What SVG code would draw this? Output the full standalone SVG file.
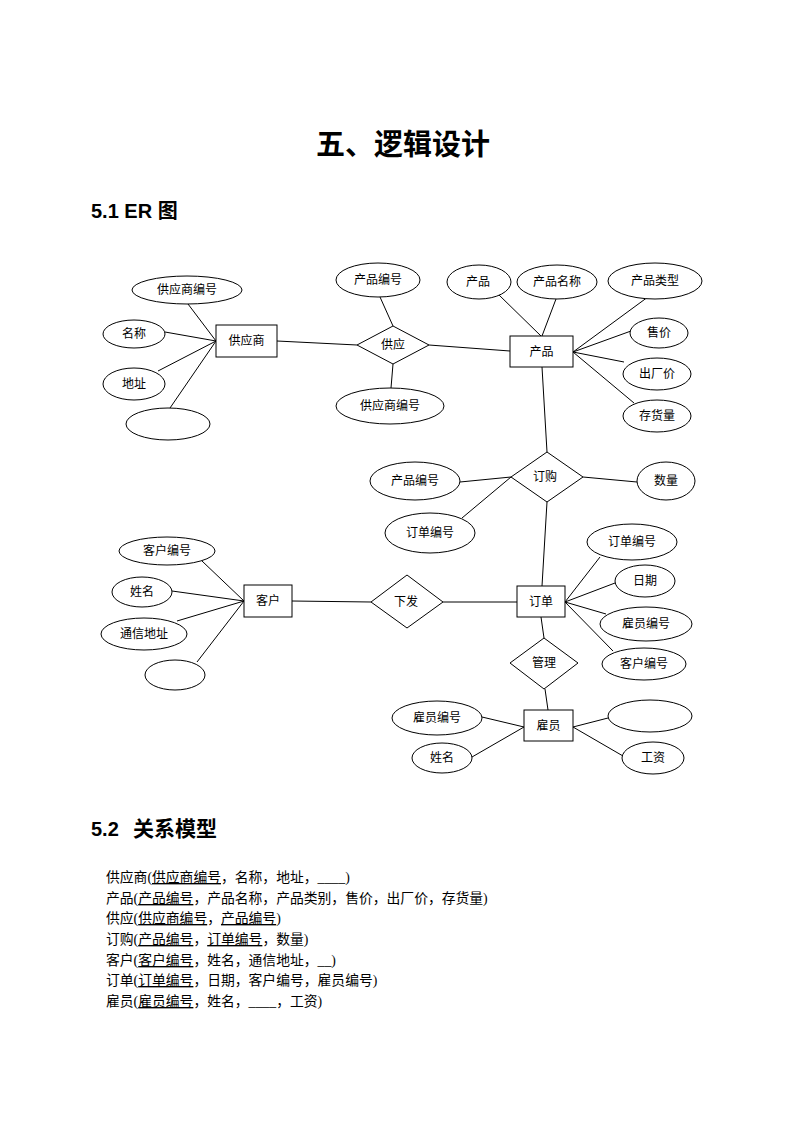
<svg xmlns="http://www.w3.org/2000/svg" width="793" height="1122" viewBox="0 0 793 1122">
<style>
.bg{fill:#fff}
.sh{fill:#fff;stroke:#000;stroke-width:1}
.ln{stroke:#000;stroke-width:1;fill:none}
.lb{font-family:"Liberation Serif","Noto Sans CJK SC",serif;font-size:12px;fill:#000;text-anchor:middle}
.h1{font-family:"Liberation Sans","Noto Sans CJK SC",sans-serif;font-size:29px;font-weight:bold;fill:#000;text-anchor:middle}
.h2{font-family:"Liberation Sans","Noto Sans CJK SC",sans-serif;font-size:20px;font-weight:bold;fill:#000}
.rt{font-family:"Liberation Serif","Noto Sans CJK SC",serif;font-size:13.8px;fill:#000}
.u{text-decoration:underline}
</style>
<rect class="bg" x="0" y="0" width="793" height="1122"/>
<text class="h1" x="403" y="155">五、逻辑设计</text>
<text class="h2" x="91" y="218">5.1 ER 图</text>

<g id="connectors">
<line class="ln" x1="188" y1="304" x2="216" y2="341"/>
<line class="ln" x1="165" y1="332" x2="216" y2="341"/>
<line class="ln" x1="158" y1="371" x2="216" y2="341"/>
<line class="ln" x1="170" y1="408" x2="216" y2="341"/>
<line class="ln" x1="277" y1="341" x2="357" y2="345"/>
<line class="ln" x1="380" y1="297" x2="393" y2="326"/>
<line class="ln" x1="393" y1="364" x2="391" y2="388"/>
<line class="ln" x1="429" y1="345" x2="510" y2="351"/>
<line class="ln" x1="498" y1="294" x2="541" y2="336"/>
<line class="ln" x1="556" y1="299" x2="542" y2="336"/>
<line class="ln" x1="652" y1="294" x2="573" y2="352"/>
<line class="ln" x1="631" y1="331" x2="573" y2="352"/>
<line class="ln" x1="624" y1="362" x2="573" y2="352"/>
<line class="ln" x1="634" y1="403" x2="573" y2="352"/>
<line class="ln" x1="542" y1="367" x2="547" y2="452"/>
<line class="ln" x1="460" y1="482" x2="511" y2="477"/>
<line class="ln" x1="462" y1="518" x2="511" y2="477"/>
<line class="ln" x1="583" y1="477" x2="637" y2="482"/>
<line class="ln" x1="547" y1="502" x2="542" y2="586"/>
<line class="ln" x1="600" y1="557" x2="565" y2="602"/>
<line class="ln" x1="615" y1="583" x2="565" y2="602"/>
<line class="ln" x1="606" y1="614" x2="565" y2="602"/>
<line class="ln" x1="613" y1="651" x2="565" y2="602"/>
<line class="ln" x1="202" y1="561" x2="244" y2="601"/>
<line class="ln" x1="172" y1="591" x2="244" y2="601"/>
<line class="ln" x1="177" y1="621" x2="244" y2="601"/>
<line class="ln" x1="197" y1="662" x2="244" y2="601"/>
<line class="ln" x1="292" y1="601" x2="371" y2="602"/>
<line class="ln" x1="443" y1="602" x2="517" y2="602"/>
<line class="ln" x1="541" y1="617" x2="544" y2="638"/>
<line class="ln" x1="545" y1="689" x2="548" y2="710"/>
<line class="ln" x1="482" y1="717" x2="524" y2="727"/>
<line class="ln" x1="472" y1="757" x2="524" y2="727"/>
<line class="ln" x1="573" y1="727" x2="608" y2="718"/>
<line class="ln" x1="573" y1="727" x2="623" y2="756"/>
</g>

<g id="e-supplier"><rect class="sh" x="216" y="325" width="61" height="32"/><text class="lb" x="246.5" y="345">供应商</text></g>
<g id="e-product"><rect class="sh" x="510" y="336" width="63" height="31"/><text class="lb" x="541.5" y="356">产品</text></g>
<g id="e-order"><rect class="sh" x="517" y="586" width="48" height="31"/><text class="lb" x="541" y="606">订单</text></g>
<g id="e-customer"><rect class="sh" x="244" y="585" width="48" height="32"/><text class="lb" x="268" y="605">客户</text></g>
<g id="e-employee"><rect class="sh" x="524" y="710" width="49" height="31"/><text class="lb" x="548.5" y="730">雇员</text></g>

<g id="r-supply"><polygon class="sh" points="357,345 393,326 429,345 393,364"/><text class="lb" x="393" y="349">供应</text></g>
<g id="r-purchase"><polygon class="sh" points="511,477 547,452 583,477 547,502"/><text class="lb" x="545" y="481">订购</text></g>
<g id="r-issue"><polygon class="sh" points="371,602 407,575 443,602 407,628"/><text class="lb" x="406" y="606">下发</text></g>
<g id="r-manage"><polygon class="sh" points="510,663 544,638 578,663 544,689"/><text class="lb" x="544" y="667">管理</text></g>

<g id="a-sup-id"><ellipse class="sh" cx="187" cy="290" rx="55" ry="14"/><text class="lb" x="187" y="294">供应商编号</text></g>
<g id="a-sup-name"><ellipse class="sh" cx="134" cy="334" rx="31" ry="14"/><text class="lb" x="134" y="338">名称</text></g>
<g id="a-sup-addr"><ellipse class="sh" cx="134" cy="384" rx="31" ry="16"/><text class="lb" x="134" y="388">地址</text></g>
<g id="a-sup-empty"><ellipse class="sh" cx="168" cy="424" rx="42" ry="16"/></g>

<g id="a-supply-pid"><ellipse class="sh" cx="378" cy="280" rx="42" ry="17"/><text class="lb" x="378" y="284">产品编号</text></g>
<g id="a-supply-sid"><ellipse class="sh" cx="390" cy="406" rx="54" ry="18"/><text class="lb" x="390" y="410">供应商编号</text></g>

<g id="a-prod"><ellipse class="sh" cx="479" cy="282" rx="32" ry="17"/><text class="lb" x="478" y="286">产品</text></g>
<g id="a-prod-name"><ellipse class="sh" cx="557" cy="282" rx="40" ry="17"/><text class="lb" x="557" y="286">产品名称</text></g>
<g id="a-prod-type"><ellipse class="sh" cx="655" cy="281" rx="47" ry="18"/><text class="lb" x="655" y="285">产品类型</text></g>
<g id="a-prod-price"><ellipse class="sh" cx="659" cy="333" rx="29" ry="15"/><text class="lb" x="659" y="337">售价</text></g>
<g id="a-prod-fprice"><ellipse class="sh" cx="657" cy="374" rx="34" ry="16"/><text class="lb" x="657" y="378">出厂价</text></g>
<g id="a-prod-stock"><ellipse class="sh" cx="657" cy="416" rx="34" ry="16"/><text class="lb" x="657" y="420">存货量</text></g>

<g id="a-pur-pid"><ellipse class="sh" cx="415" cy="481" rx="45" ry="19"/><text class="lb" x="415" y="485">产品编号</text></g>
<g id="a-pur-oid"><ellipse class="sh" cx="430" cy="533" rx="45" ry="20"/><text class="lb" x="430" y="537">订单编号</text></g>
<g id="a-pur-qty"><ellipse class="sh" cx="666" cy="481" rx="29" ry="19"/><text class="lb" x="666" y="485">数量</text></g>

<g id="a-ord-id"><ellipse class="sh" cx="632" cy="542" rx="45" ry="18"/><text class="lb" x="632" y="546">订单编号</text></g>
<g id="a-ord-date"><ellipse class="sh" cx="645" cy="581" rx="30" ry="16"/><text class="lb" x="645" y="585">日期</text></g>
<g id="a-ord-eid"><ellipse class="sh" cx="646" cy="624" rx="46" ry="17"/><text class="lb" x="646" y="628">雇员编号</text></g>
<g id="a-ord-cid"><ellipse class="sh" cx="644" cy="664" rx="42" ry="16"/><text class="lb" x="644" y="668">客户编号</text></g>

<g id="a-cus-id"><ellipse class="sh" cx="167" cy="551" rx="48" ry="14"/><text class="lb" x="167" y="555">客户编号</text></g>
<g id="a-cus-name"><ellipse class="sh" cx="142" cy="592" rx="30" ry="15"/><text class="lb" x="142" y="596">姓名</text></g>
<g id="a-cus-addr"><ellipse class="sh" cx="144" cy="634" rx="43" ry="16"/><text class="lb" x="144" y="638">通信地址</text></g>
<g id="a-cus-empty"><ellipse class="sh" cx="175" cy="675" rx="30" ry="15"/></g>

<g id="a-emp-id"><ellipse class="sh" cx="437" cy="718" rx="45" ry="17"/><text class="lb" x="437" y="722">雇员编号</text></g>
<g id="a-emp-name"><ellipse class="sh" cx="442" cy="758" rx="30" ry="15"/><text class="lb" x="442" y="762">姓名</text></g>
<g id="a-emp-empty"><ellipse class="sh" cx="650" cy="716" rx="42" ry="16"/></g>
<g id="a-emp-salary"><ellipse class="sh" cx="653" cy="758" rx="31" ry="16"/><text class="lb" x="653" y="762">工资</text></g>

<text class="h2" x="91" y="836">5.2</text>
<text class="h2" x="133" y="836" style="font-size:21px">关系模型</text>

<g id="relations">
<text class="rt" x="106" y="882">供应商(<tspan class="u">供应商编号</tspan>，名称，地址，____)</text>
<text class="rt" x="106" y="903">产品(<tspan class="u">产品编号</tspan>，产品名称，产品类别，售价，出厂价，存货量)</text>
<text class="rt" x="106" y="923">供应(<tspan class="u">供应商编号</tspan>，<tspan class="u">产品编号</tspan>)</text>
<text class="rt" x="106" y="944">订购(<tspan class="u">产品编号</tspan>，<tspan class="u">订单编号</tspan>，数量)</text>
<text class="rt" x="106" y="965">客户(<tspan class="u">客户编号</tspan>，姓名，通信地址，__)</text>
<text class="rt" x="106" y="985">订单(<tspan class="u">订单编号</tspan>，日期，客户编号，雇员编号)</text>
<text class="rt" x="106" y="1006">雇员(<tspan class="u">雇员编号</tspan>，姓名，____，工资)</text>
</g>
</svg>
